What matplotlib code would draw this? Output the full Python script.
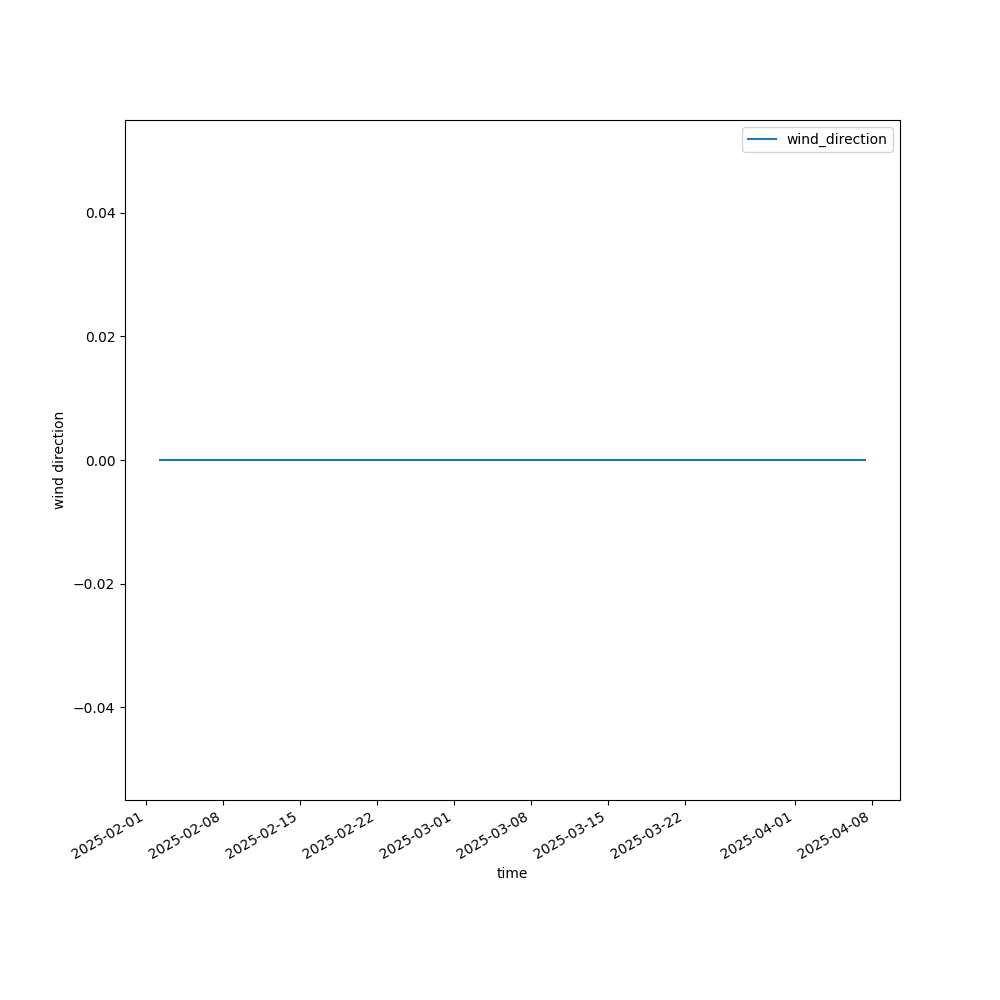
import pandas as pd
import matplotlib
matplotlib.use("Agg")
import matplotlib.pyplot as plt

# daily readings, sensor stuck at zero the whole period
time = pd.date_range("2025-02-02 08:00", "2025-04-07 08:00", freq="D")
wind_direction = [0.0] * len(time)

fig, ax = plt.subplots(figsize=(10, 10), dpi=100)
ax.plot(time, wind_direction, label="wind_direction")
ax.set_xlabel("time")
ax.set_ylabel("wind direction")
ax.legend(loc="upper right")
fig.autofmt_xdate()

plt.savefig("out.png", dpi=100)
plt.close()
